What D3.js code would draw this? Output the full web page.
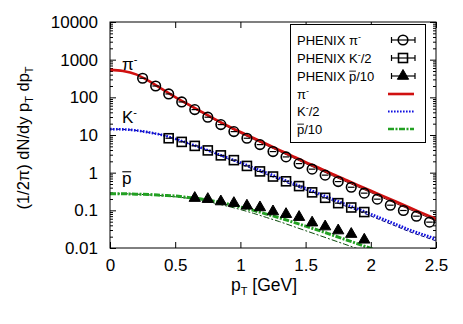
<!DOCTYPE html>
<html><head><meta charset="utf-8">
<script src="https://cdn.jsdelivr.net/npm/d3@7"></script>
<style>
body{margin:0;background:#fff;}
text{font-family:"Liberation Sans",Arial,sans-serif;fill:#000;}
</style></head>
<body><svg id="c" width="463" height="324"></svg>
<script>
// ---- data ----
const xTicks = [0, 0.5, 1, 1.5, 2, 2.5];
const xTickLabels = ["0", "0.5", "1", "1.5", "2", "2.5"];
const yTicks = [0.01, 0.1, 1, 10, 100, 1000, 10000];
const yTickLabels = ["0.01", "0.1", "1", "10", "100", "1000", "10000"];

const pionPt = [0.25,0.35,0.45,0.55,0.65,0.75,0.85,0.95,1.05,1.15,1.25,1.35,1.45,1.55,1.65,1.75,1.85,1.95,2.05,2.15,2.25,2.35,2.45];
const pionData = [321,200,123,75.5,47.2,29.7,18.9,12.3,8.2,5.56,3.63,2.62,1.74,1.24,0.86,0.58,0.41,0.286,0.198,0.137,0.099,0.070,0.0486];
const kaonPt = [0.45,0.55,0.65,0.75,0.85,0.95,1.05,1.15,1.25,1.35,1.45,1.55,1.65,1.75,1.85,1.95];
const kaonData = [8.2,6.56,5.14,3.9,2.88,2.15,1.51,1.08,0.79,0.59,0.44,0.30,0.215,0.155,0.119,0.09];
const protonPt = [0.65,0.75,0.85,0.95,1.05,1.15,1.25,1.35,1.45,1.55,1.65,1.75,1.85,1.95];
const protonData = [0.211,0.198,0.171,0.155,0.132,0.119,0.093,0.079,0.066,0.047,0.037,0.029,0.0234,0.0165];

const curvePt = [0,0.1,0.2,0.3,0.4,0.5,0.6,0.7,0.8,0.9,1.0,1.1,1.2,1.3,1.4,1.5,1.6,1.7,1.8,1.9,2.0,2.1,2.2,2.3,2.4,2.5];
const pionCurve = [537,501,407,269,166,102,64.6,41.7,26.9,17.8,12.0,8.32,5.75,3.98,2.75,1.91,1.35,0.933,0.661,0.468,0.331,0.234,0.166,0.117,0.0832,0.0589];
const pionCurve2 = [537,501,407,269,166,102,62,39.5,25.3,16.6,11.1,7.7,5.3,3.65,2.52,1.74,1.22,0.845,0.597,0.421,0.297,0.210,0.148,0.105,0.0743,0.0525];
const kaonCurve = [14.3,14.1,13.2,11.7,10.0,7.94,6.03,4.57,3.39,2.51,1.86,1.35,1.0,0.724,0.525,0.389,0.282,0.204,0.148,0.110,0.0794,0.0575,0.0417,0.0302,0.0229,0.0174];
const kaonCurve2 = [14.3,14.1,13.2,11.7,10.0,7.9,5.95,4.45,3.25,2.36,1.72,1.23,0.9,0.65,0.47,0.348,0.252,0.182,0.132,0.098,0.0707,0.0512,0.0371,0.0269,0.0204,0.0155];
const protonCurve = [0.275,0.275,0.269,0.263,0.251,0.240,0.219,0.200,0.174,0.148,0.123,0.100,0.0794,0.0631,0.0490,0.0380,0.0295,0.0224,0.0170,0.0129,0.00977,0.00741];
const protonCurve2 = [0.275,0.275,0.269,0.257,0.245,0.229,0.209,0.182,0.155,0.129,0.105,0.0832,0.0646,0.0501,0.0380,0.0288,0.0219,0.0166,0.0126,0.00955];

const xErr = 0.025;

// ---- layout ----
const L = 110, R = 436, T = 22, B = 248;
const svg = d3.select("#c");
const x = d3.scaleLinear().domain([0, 2.5]).range([L, R]);
const y = d3.scaleLog().domain([0.01, 10000]).range([B, T]);

const minor = [];
for (let e = -2; e < 4; e++) for (let m = 2; m <= 9; m++) minor.push(m * Math.pow(10, e));

function styleAxis(g) {
  g.select(".domain").remove();
  g.selectAll("line").attr("stroke", "#000").attr("stroke-width", 1);
  g.selectAll("text").style("font-family", "Liberation Sans, Arial, sans-serif").style("font-size", "17px").attr("fill", "#000");
}
// left
svg.append("g").attr("transform", `translate(${L},0)`)
  .call(d3.axisLeft(y).tickValues(yTicks).tickSize(-6).tickPadding(12).tickFormat((d, i) => yTickLabels[i]))
  .call(styleAxis);
svg.append("g").attr("transform", `translate(${L},0)`)
  .call(d3.axisLeft(y).tickValues(minor).tickSize(-3).tickFormat(""))
  .call(styleAxis);
// right
svg.append("g").attr("transform", `translate(${R},0)`)
  .call(d3.axisRight(y).tickValues(yTicks).tickSize(-6).tickFormat(""))
  .call(styleAxis);
svg.append("g").attr("transform", `translate(${R},0)`)
  .call(d3.axisRight(y).tickValues(minor).tickSize(-3).tickFormat(""))
  .call(styleAxis);
// bottom
svg.append("g").attr("transform", `translate(0,${B})`)
  .call(d3.axisBottom(x).tickValues(xTicks).tickSize(-6).tickPadding(11).tickFormat((d, i) => xTickLabels[i]))
  .call(styleAxis);
// top
svg.append("g").attr("transform", `translate(0,${T})`)
  .call(d3.axisTop(x).tickValues(xTicks).tickSize(-6).tickFormat(""))
  .call(styleAxis);

svg.append("clipPath").attr("id", "clip").append("rect")
  .attr("x", L).attr("y", T).attr("width", R - L).attr("height", B - T);

const plot = svg.append("g").attr("clip-path", "url(#clip)");
const line = d3.line().x(d => x(d[0])).y(d => y(d[1])).curve(d3.curveMonotoneX);
const zip = (xs, ys) => ys.map((v, i) => [xs[i], v]);

const RED = "#d01010", BLUE = "#1010e0", GREEN = "#22a022";
// curves
plot.append("path").datum(zip(curvePt, pionCurve2)).attr("d", line)
  .attr("fill", "none").attr("stroke", "#5a0000").attr("stroke-width", 1);
plot.append("path").datum(zip(curvePt, pionCurve)).attr("d", line)
  .attr("fill", "none").attr("stroke", RED).attr("stroke-width", 2.6);

plot.append("path").datum(zip(curvePt, kaonCurve2)).attr("d", line)
  .attr("fill", "none").attr("stroke", "#000080").attr("stroke-width", 1).attr("stroke-dasharray", "4,2");
plot.append("path").datum(zip(curvePt, kaonCurve)).attr("d", line)
  .attr("fill", "none").attr("stroke", BLUE).attr("stroke-width", 2.6).attr("stroke-dasharray", "1.6,1.4");

plot.append("path").datum(zip(curvePt, protonCurve2)).attr("d", line)
  .attr("fill", "none").attr("stroke", "#0a4a0a").attr("stroke-width", 1).attr("stroke-dasharray", "6,2,2,2");
plot.append("path").datum(zip(curvePt, protonCurve)).attr("d", line)
  .attr("fill", "none").attr("stroke", GREEN).attr("stroke-width", 3).attr("stroke-dasharray", "6,1.5,2,1.5");

// data points
function errBars(pts, vals) {
  plot.append("g").selectAll("line").data(zip(pts, vals)).join("line")
    .attr("x1", d => x(d[0] - xErr)).attr("x2", d => x(d[0] + xErr))
    .attr("y1", d => y(d[1])).attr("y2", d => y(d[1]))
    .attr("stroke", "#000").attr("stroke-width", 1.2);
}
errBars(pionPt, pionData);
errBars(kaonPt, kaonData);
plot.append("g").selectAll("circle").data(zip(pionPt, pionData)).join("circle")
  .attr("cx", d => x(d[0])).attr("cy", d => y(d[1])).attr("r", 4.8)
  .attr("fill", "none").attr("stroke", "#000").attr("stroke-width", 1.6);
plot.append("g").selectAll("rect").data(zip(kaonPt, kaonData)).join("rect")
  .attr("x", d => x(d[0]) - 4.5).attr("y", d => y(d[1]) - 4.5).attr("width", 9).attr("height", 9)
  .attr("fill", "none").attr("stroke", "#000").attr("stroke-width", 1.6);
const tri = d3.symbol().type(d3.symbolTriangle).size(55);
plot.append("g").selectAll("path").data(zip(protonPt, protonData)).join("path")
  .attr("transform", d => `translate(${x(d[0])},${y(d[1])})`).attr("d", tri)
  .attr("fill", "#000").attr("stroke", "#000").attr("stroke-width", 1);

// border
svg.append("rect").attr("x", L).attr("y", T).attr("width", R - L).attr("height", B - T)
  .attr("fill", "none").attr("stroke", "#000").attr("stroke-width", 1);

// overline helper: draws a bar above character index idx of a text element
function overline(t, idx, baseY, fs) {
  const box = t.node().getExtentOfChar(idx);
  d3.select(t.node().parentNode).append("line")
    .attr("x1", box.x + 0.3).attr("x2", box.x + box.width - 0.3)
    .attr("y1", baseY - 0.72 * fs).attr("y2", baseY - 0.72 * fs)
    .attr("stroke", "#000").attr("stroke-width", fs > 14 ? 1.1 : 0.9);
}

// curve labels
function lbl(px, py, base, sup, over) {
  const t = svg.append("text").attr("x", px).attr("y", py).style("font-size", "17px");
  t.append("tspan").text(base);
  if (sup) t.append("tspan").text(sup).attr("dy", -7).style("font-size", "11px");
  if (over) overline(t, 0, py, 17);
}
lbl(122, 70, "π", "-");
lbl(122, 123, "K", "-");
lbl(122, 184, "p", null, true);

// axis titles
const yl = svg.append("text").attr("transform", "translate(29,138) rotate(-90)")
  .attr("text-anchor", "middle").style("font-size", "16.5px");
yl.append("tspan").text("(1/2π) dN/dy p");
yl.append("tspan").text("T").attr("dy", 4).style("font-size", "11px");
yl.append("tspan").text(" dp").attr("dy", -4);
yl.append("tspan").text("T").attr("dy", 4).style("font-size", "11px");

const xl = svg.append("text").attr("x", 264).attr("y", 291).attr("text-anchor", "middle").style("font-size", "17.5px");
xl.append("tspan").text("p");
xl.append("tspan").text("T").attr("dy", 4).style("font-size", "11px");
xl.append("tspan").text(" [GeV]").attr("dy", -4);

// legend
const lg = svg.append("g");
lg.append("rect").attr("x", 290.5).attr("y", 24.5).attr("width", 135).attr("height", 118)
  .attr("fill", "#fff").attr("stroke", "#000").attr("stroke-width", 1);
const rows = [40, 58, 76, 94, 111.5, 129];
const legLabels = [
  [["PHENIX π", null], ["-", "sup"]],
  [["PHENIX K", null], ["-", "sup"], ["/2", "back"]],
  [["PHENIX ", null], ["p", "over"], ["/10", null]],
  [["π", null], ["-", "sup"]],
  [["K", null], ["-", "sup"], ["/2", "back"]],
  [["p", "over"], ["/10", null]]
];
legLabels.forEach((parts, i) => {
  const base = rows[i] + 4.5;
  const t = lg.append("text").attr("x", 297).attr("y", base).style("font-size", "13px");
  let idx = 0; const overIdx = [];
  parts.forEach(([s, k]) => {
    const sp = t.append("tspan").text(s);
    if (k === "sup") sp.attr("dy", -5).style("font-size", "9px");
    if (k === "back") sp.attr("dy", 5);
    if (k === "over") overIdx.push(idx);
    idx += s.length;
  });
  overIdx.forEach(j => overline(t, j, base, 13));
});
const lx1 = 391.5, lx2 = 415, lxc = 403;
[0, 1, 2].forEach(i => {
  const yy = rows[i];
  lg.append("line").attr("x1", lx1).attr("x2", lx2).attr("y1", yy).attr("y2", yy).attr("stroke", "#000").attr("stroke-width", 1.2);
  lg.append("line").attr("x1", lx1).attr("x2", lx1).attr("y1", yy - 3).attr("y2", yy + 3).attr("stroke", "#000").attr("stroke-width", 1.2);
  lg.append("line").attr("x1", lx2).attr("x2", lx2).attr("y1", yy - 3).attr("y2", yy + 3).attr("stroke", "#000").attr("stroke-width", 1.2);
});
lg.append("circle").attr("cx", lxc).attr("cy", rows[0]).attr("r", 4.8).attr("fill", "none").attr("stroke", "#000").attr("stroke-width", 1.6);
lg.append("rect").attr("x", lxc - 4.5).attr("y", rows[1] - 4.5).attr("width", 9).attr("height", 9).attr("fill", "none").attr("stroke", "#000").attr("stroke-width", 1.6);
lg.append("path").attr("transform", `translate(${lxc},${rows[2]})`).attr("d", tri).attr("fill", "#000").attr("stroke", "#000");
lg.append("line").attr("x1", 388).attr("x2", 414).attr("y1", rows[3]).attr("y2", rows[3]).attr("stroke", RED).attr("stroke-width", 2.6);
lg.append("line").attr("x1", 388).attr("x2", 414).attr("y1", rows[4]).attr("y2", rows[4]).attr("stroke", BLUE).attr("stroke-width", 2.2).attr("stroke-dasharray", "1.6,1.4");
lg.append("line").attr("x1", 388).attr("x2", 414).attr("y1", rows[5]).attr("y2", rows[5]).attr("stroke", GREEN).attr("stroke-width", 2.6).attr("stroke-dasharray", "6,1.5,2,1.5");
</script></body></html>
